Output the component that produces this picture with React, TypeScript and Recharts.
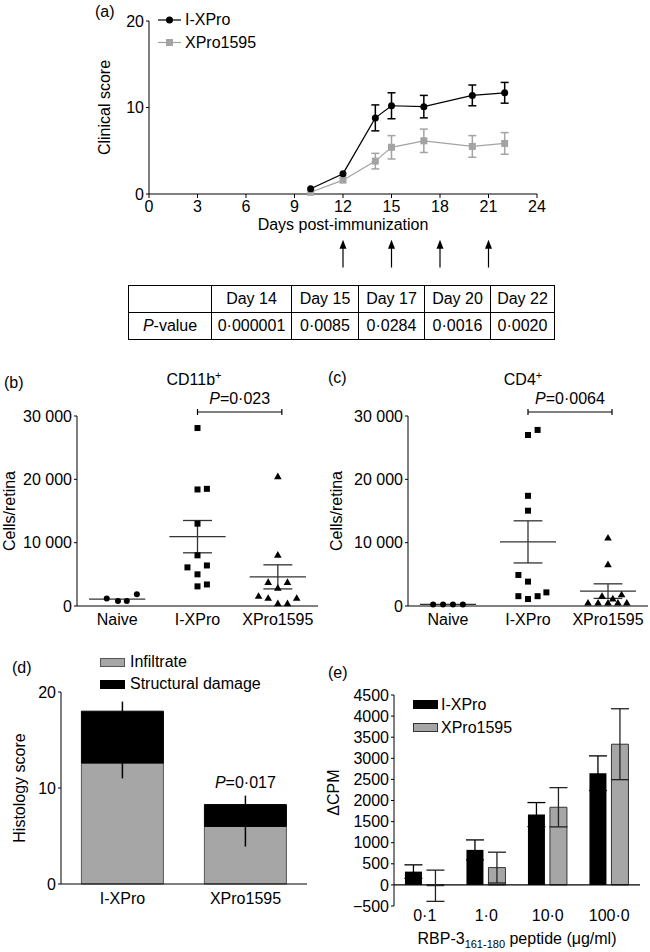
import React from "react";
import {
  LineChart,
  Line,
  XAxis,
  YAxis,
  ErrorBar,
  ReferenceLine,
  ScatterChart,
  Scatter,
  BarChart,
  Bar,
  LabelList,
} from "recharts";

const FONT = '"Liberation Sans", Arial, Helvetica, sans-serif';
const GREY = "#a6a6a6";
const LINE_GREY = "#a3a3a3";

// (a) clinical score over time
const days = [10, 12, 14, 15, 17, 20, 22];
const ixproScore = [0.6, 2.35, 8.8, 10.2, 10.1, 11.4, 11.7];
const ixproScoreSem = [0, 0, 1.5, 1.5, 1.3, 1.2, 1.2];
const xproScore = [0.2, 1.6, 3.8, 5.4, 6.15, 5.5, 5.85];
const xproScoreSem = [0, 0, 0.9, 1.35, 1.35, 1.25, 1.25];
const dayTicks = [0, 3, 6, 9, 12, 15, 18, 21, 24];
const scoreTicks = [0, 10, 20];
const arrowDays = [12, 15, 18, 21];

// p-value table under (a)
const tableDays = ["Day 14", "Day 15", "Day 17", "Day 20", "Day 22"];
const tableP = ["0·000001", "0·0085", "0·0284", "0·0016", "0·0020"];

// (b) / (c) cells per retina
const groups = ["Naive", "I-XPro", "XPro1595"];
const cellTicks = [0, 10000, 20000, 30000];
const cd11bNaive = [1200, 800, 800, 1850];
const cd11bIxpro = [28100, 18400, 18500, 13000, 8000, 6100, 6400, 5000, 3100, 3400];
const cd11bXpro = [20500, 8100, 3800, 3800, 2900, 1600, 1300, 1300, 450, 450];
const cd11bMean = [1100, 10950, 4600];
const cd11bSem = [0, 2550, 1900];
const cd4Naive = [250, 250, 250, 250];
const cd4Ixpro = [27800, 27000, 17400, 15050, 4900, 3850, 1550, 1550, 1100, 2150];
const cd4Xpro = [10800, 6600, 1600, 1200, 1850, 550, 550, 550, 550, 550];
const cd4Mean = [250, 10125, 2350];
const cd4Sem = [0, 3325, 1150];

// horizontal spread of the dots inside each column (layout only)
const cd11bJitter = [
  [-0.13, 0.01, 0.12, 0.245],
  [0, 0, 0.117, 0, 0, -0.125, 0.117, 0, 0, 0.117],
  [0, 0, -0.12, 0.12, 0, -0.24, -0.12, 0.235, 0, 0.12],
];
const cd4Jitter = [
  [-0.186, -0.062, 0.062, 0.186],
  [0.12, 0, 0, 0, -0.12, 0, -0.12, 0.12, 0, 0.23],
  [0, 0, -0.075, 0.06, 0.17, -0.25, -0.124, 0, 0.124, 0.235],
];

// (d) histology
const histGroups = ["I-XPro", "XPro1595"];
const infiltrate = [12.6, 6.0];
const infiltrateSem = [1.6, 2.1];
const damage = [5.4, 2.27];
const damageSem = [1.0, 0.93];
const histP = ["", "0·017"];
const histTicks = [0, 10, 20];

// (e) proliferation
const doses = ["0·1", "1·0", "10·0", "100·0"];
const ixproCpm = [315, 830, 1666, 2647];
const ixproCpmSem = [160, 236, 285, 410];
const xproCpm = [-20, 410, 1840, 3334];
const xproCpmSem = [370, 365, 465, 840];
const cpmTicks = [-500, 0, 500, 1000, 1500, 2000, 2500, 3000, 3500, 4000, 4500];

const tickStyle = { fill: "#000", fontSize: 16, fontFamily: FONT };

const scoreData = days.map((d, i) => ({
  day: d,
  ixpro: ixproScore[i],
  ixproErr: ixproScoreSem[i],
  xpro: xproScore[i],
  xproErr: xproScoreSem[i],
}));

const histData = histGroups.map((g, i) => ({
  name: g,
  infiltrate: infiltrate[i],
  infErr: [infiltrateSem[i], 0],
  damage: damage[i],
  dmgErr: [0, damageSem[i]],
  p: histP[i],
}));

const cpmData = doses.map((d, i) => ({
  dose: d,
  ixpro: ixproCpm[i],
  ixproErr: ixproCpmSem[i],
  xpro: xproCpm[i],
  xproErr: xproCpmSem[i],
}));

const Txt = ({ x, y, children, center = false, size = 16 }: any) => (
  <div
    style={{
      position: "absolute",
      left: x,
      top: y,
      transform: center ? "translate(-50%, -50%)" : "translateY(-50%)",
      fontSize: size,
      lineHeight: 1,
      whiteSpace: "nowrap",
    }}
  >
    {children}
  </div>
);

const vTitle = (text: React.ReactNode, x: number, dy = 0) => (props: any) => {
  const vb = props.viewBox || {};
  const cy = vb.y + vb.height / 2 + dy;
  return (
    <text
      x={x}
      y={cy}
      transform={`rotate(-90 ${x} ${cy})`}
      textAnchor="middle"
      dominantBaseline="central"
      fontSize={16}
      fontFamily={FONT}
      fill="#000"
    >
      {text}
    </text>
  );
};

const arrowShape = (p: any) => (
  <g>
    <line x1={p.x1} y1={p.y1} x2={p.x2} y2={p.y2 + 8} stroke="#000" strokeWidth={1.2} />
    <polygon points={`${p.x2},${p.y2} ${p.x2 - 3.5},${p.y2 + 9} ${p.x2 + 3.5},${p.y2 + 9}`} fill="#000" />
  </g>
);

const bracketShape = (label: string) => (p: any) => (
  <g>
    <line x1={p.x1} y1={p.y1} x2={p.x2} y2={p.y2} stroke="#000" strokeWidth={1.2} />
    <line x1={p.x1} y1={p.y1 - 3} x2={p.x1} y2={p.y1 + 3} stroke="#000" strokeWidth={1.2} />
    <line x1={p.x2} y1={p.y2 - 3} x2={p.x2} y2={p.y2 + 3} stroke="#000" strokeWidth={1.2} />
    <text x={(p.x1 + p.x2) / 2} y={p.y1 - 8} textAnchor="middle" fontSize={16} fontFamily={FONT} fill="#000">
      <tspan fontStyle="italic">P</tspan>
      {"=" + label}
    </text>
  </g>
);

const blackDot = (p: any) => (
  <circle key={`c${p.index}`} cx={p.cx} cy={p.cy} r={3.5} fill="#000" />
);
const greySquareDot = (p: any) => (
  <rect key={`s${p.index}`} x={p.cx - 3.5} y={p.cy - 3.5} width={7} height={7} fill={LINE_GREY} />
);

const circleShape = (p: any) => <circle cx={p.cx} cy={p.cy} r={3} fill="#000" />;
const squareShape = (p: any) => <rect x={p.cx - 3} y={p.cy - 3} width={6} height={6} fill="#000" />;
const triangleShape = (p: any) => (
  <polygon points={`${p.cx},${p.cy - 3.6} ${p.cx - 3.8},${p.cy + 3} ${p.cx + 3.8},${p.cy + 3}`} fill="#000" />
);
const shapes = [circleShape, squareShape, triangleShape];

function ScorePanel() {
  return (
    <div style={{ position: "absolute", left: 0, top: 0 }}>
      <LineChart width={650} height={280} data={scoreData} margin={{ top: 21, right: 113, bottom: 46, left: 100 }}>
        <XAxis
          type="number"
          dataKey="day"
          domain={[0, 24]}
          ticks={dayTicks}
          interval={0}
          height={40}
          stroke="#000"
          tick={tickStyle}
          tickSize={4}
          tickMargin={3}
          label={{ value: "Days post-immunization", position: "insideBottom", offset: 4, fill: "#000", fontSize: 16, fontFamily: FONT }}
        />
        <YAxis
          type="number"
          domain={[0, 20]}
          ticks={scoreTicks}
          width={49}
          stroke="#000"
          tick={tickStyle}
          tickSize={3}
          tickMargin={2}
          label={vTitle("Clinical score", 104)}
        />
        <Line dataKey="xpro" name="XPro1595" stroke={LINE_GREY} strokeWidth={1.2} dot={greySquareDot} isAnimationActive={false}>
          <ErrorBar dataKey="xproErr" direction="y" width={4} stroke={LINE_GREY} strokeWidth={1.5} />
        </Line>
        <Line dataKey="ixpro" name="I-XPro" stroke="#000" strokeWidth={1.2} dot={blackDot} isAnimationActive={false}>
          <ErrorBar dataKey="ixproErr" direction="y" width={4} stroke="#000" strokeWidth={1.5} />
        </Line>
        {arrowDays.map((d) => (
          <ReferenceLine
            key={d}
            segment={[{ x: d, y: -8.5 }, { x: d, y: -5.3 }]}
            ifOverflow="visible"
            shape={arrowShape}
          />
        ))}
      </LineChart>
      <svg style={{ position: "absolute", left: 156, top: 12 }} width={28} height={40}>
        <line x1={2} y1={8} x2={25} y2={8} stroke="#000" strokeWidth={1.2} />
        <circle cx={13.5} cy={8} r={3.5} fill="#000" />
        <line x1={2} y1={30.5} x2={25} y2={30.5} stroke={LINE_GREY} strokeWidth={1.2} />
        <rect x={10} y={27} width={7} height={7} fill={LINE_GREY} />
      </svg>
      <Txt x={185} y={20}>I-XPro</Txt>
      <Txt x={185} y={42.5}>XPro1595</Txt>
    </div>
  );
}

function PTable() {
  const widths = [83, 80, 67, 66, 66, 64];
  const cell: React.CSSProperties = {
    border: "1px solid #000",
    padding: 0,
    height: 26,
    textAlign: "center",
    fontSize: 16,
    lineHeight: 1,
  };
  return (
    <table
      style={{
        position: "absolute",
        left: 128,
        top: 285,
        width: 427,
        borderCollapse: "collapse",
        tableLayout: "fixed",
        fontFamily: FONT,
      }}
    >
      <colgroup>
        {widths.map((w, i) => (
          <col key={i} style={{ width: w }} />
        ))}
      </colgroup>
      <tbody>
        <tr>
          <td style={cell}></td>
          {tableDays.map((d) => (
            <td key={d} style={cell}>{d}</td>
          ))}
        </tr>
        <tr>
          <td style={cell}>
            <i>P</i>-value
          </td>
          {tableP.map((p) => (
            <td key={p} style={cell}>{p}</td>
          ))}
        </tr>
      </tbody>
    </table>
  );
}

function CellPanel({ left, yTitleX, yAxisWidth, right, values, jitter, means, sems, pLabel }: any) {
  const series = values.map((vals: number[], g: number) =>
    vals.map((v, i) => ({ x: g + 1 + jitter[g][i], y: v }))
  );
  const segs: any[] = [];
  means.forEach((m: number, g: number) => {
    const c = g + 1;
    const s = sems[g];
    segs.push([{ x: c - 0.35, y: m }, { x: c + 0.35, y: m }]);
    if (s > 0) {
      segs.push([{ x: c, y: m - s }, { x: c, y: m + s }]);
      segs.push([{ x: c - 0.18, y: m - s }, { x: c + 0.18, y: m - s }]);
      segs.push([{ x: c - 0.18, y: m + s }, { x: c + 0.18, y: m + s }]);
    }
  });
  return (
    <div style={{ position: "absolute", left, top: 360 }}>
      <ScatterChart width={325} height={280} margin={{ top: 56, right, bottom: 4, left: 0 }}>
        <XAxis
          type="number"
          dataKey="x"
          domain={[0.5, 3.5]}
          ticks={[1, 2, 3]}
          interval={0}
          tickFormatter={(v: number) => groups[v - 1]}
          height={30}
          stroke="#000"
          tick={tickStyle}
          tickLine={false}
          tickMargin={2}
        />
        <YAxis
          type="number"
          dataKey="y"
          domain={[0, 30000]}
          ticks={cellTicks}
          interval={0}
          tickFormatter={(v: number) => (v >= 10000 ? `${v / 1000} 000` : `${v}`)}
          width={yAxisWidth}
          stroke="#000"
          tick={tickStyle}
          tickSize={3}
          tickMargin={2}
          label={vTitle("Cells/retina", yTitleX)}
        />
        {segs.map((s, i) => (
          <ReferenceLine key={i} segment={s} stroke="#333" strokeWidth={1.3} ifOverflow="visible" />
        ))}
        {series.map((d: any[], g: number) => (
          <Scatter key={g} data={d} shape={shapes[g]} isAnimationActive={false} />
        ))}
        <ReferenceLine
          segment={[{ x: 2, y: 30630 }, { x: 3.05, y: 30630 }]}
          ifOverflow="visible"
          shape={bracketShape(pLabel)}
        />
      </ScatterChart>
    </div>
  );
}

function HistPanel() {
  return (
    <div style={{ position: "absolute", left: 0, top: 640 }}>
      <BarChart width={325} height={290} data={histData} margin={{ top: 52, right: 18, bottom: 16, left: 0 }} barCategoryGap="16.6%">
        <XAxis dataKey="name" height={30} stroke="#000" tick={tickStyle} tickLine={false} tickMargin={3} />
        <YAxis
          domain={[0, 20]}
          ticks={histTicks}
          width={61}
          stroke="#000"
          tick={tickStyle}
          tickSize={3}
          tickMargin={2}
          label={vTitle("Histology score", 19)}
        />
        <Bar dataKey="infiltrate" stackId="h" fill={GREY} stroke="#555" strokeWidth={1} isAnimationActive={false}>
          <ErrorBar dataKey="infErr" direction="y" width={0} stroke="#000" strokeWidth={1.5} />
        </Bar>
        <Bar dataKey="damage" stackId="h" fill="#000" stroke="#000" isAnimationActive={false}>
          <ErrorBar dataKey="dmgErr" direction="y" width={0} stroke="#000" strokeWidth={1.5} />
          <LabelList
            dataKey="p"
            content={(p: any) =>
              p.value ? (
                <text x={p.x + p.width / 2} y={p.y - 17} textAnchor="middle" fontSize={16} fontFamily={FONT} fill="#000">
                  <tspan fontStyle="italic">P</tspan>
                  {"=" + p.value}
                </text>
              ) : null
            }
          />
        </Bar>
      </BarChart>
      <div style={{ position: "absolute", left: 100, top: 18, width: 25, height: 9, background: GREY, border: "1px solid #555", boxSizing: "border-box" }} />
      <div style={{ position: "absolute", left: 100, top: 40, width: 25, height: 9, background: "#000" }} />
      <Txt x={130} y={22}>Infiltrate</Txt>
      <Txt x={130} y={44}>Structural damage</Txt>
    </div>
  );
}

const cpmXLabel = (props: any) => {
  const vb = props.viewBox || {};
  return (
    <text x={vb.x + vb.width / 2} y={vb.y + vb.height - 2} textAnchor="middle" fontSize={16} fontFamily={FONT} fill="#000">
      RBP-3
      <tspan dy={4} fontSize={11}>161-180</tspan>
      <tspan dy={-4}> peptide (μg/ml)</tspan>
    </text>
  );
};

function CpmPanel() {
  return (
    <div style={{ position: "absolute", left: 325, top: 640 }}>
      <BarChart width={325} height={310} data={cpmData} margin={{ top: 55, right: 10, bottom: 4, left: 0 }} barCategoryGap="17.8%" barGap={5}>
        <XAxis dataKey="dose" height={40} axisLine={false} tickLine={false} tickSize={0} tickMargin={4} tick={tickStyle} label={cpmXLabel} />
        <YAxis
          domain={[-500, 4500]}
          ticks={cpmTicks}
          interval={0}
          tickFormatter={(v: number) => (v < 0 ? `\u2212${-v}` : `${v}`)}
          width={69}
          stroke="#000"
          tick={tickStyle}
          tickSize={3}
          tickMargin={2}
          label={vTitle("\u0394CPM", 8, -8)}
        />
        <ReferenceLine y={0} stroke="#000" strokeWidth={1.2} />
        <Bar dataKey="ixpro" fill="#000" isAnimationActive={false}>
          <ErrorBar dataKey="ixproErr" direction="y" width={9} stroke="#000" strokeWidth={1.3} />
        </Bar>
        <Bar dataKey="xpro" fill={GREY} stroke="#333" strokeWidth={1} isAnimationActive={false}>
          <ErrorBar dataKey="xproErr" direction="y" width={9} stroke="#222" strokeWidth={1.3} />
        </Bar>
      </BarChart>
      <div style={{ position: "absolute", left: 88, top: 60, width: 25, height: 9, background: "#000" }} />
      <div style={{ position: "absolute", left: 88, top: 83, width: 25, height: 9, background: GREY, border: "1px solid #333", boxSizing: "border-box" }} />
      <Txt x={116} y={65}>I-XPro</Txt>
      <Txt x={116} y={88}>XPro1595</Txt>
    </div>
  );
}

export default function App() {
  return (
    <div style={{ position: "absolute", left: 0, top: 0, width: 650, height: 952, background: "#fff", fontFamily: FONT, color: "#000" }}>
      <ScorePanel />
      <Txt x={95} y={12}>(a)</Txt>
      <PTable />
      <CellPanel
        left={0}
        yTitleX={9}
        yAxisWidth={77}
        right={7}
        values={[cd11bNaive, cd11bIxpro, cd11bXpro]}
        jitter={cd11bJitter}
        means={cd11bMean}
        sems={cd11bSem}
        pLabel="0·023"
      />
      <CellPanel
        left={325}
        yTitleX={11.5}
        yAxisWidth={83}
        right={2}
        values={[cd4Naive, cd4Ixpro, cd4Xpro]}
        jitter={cd4Jitter}
        means={cd4Mean}
        sems={cd4Sem}
        pLabel="0·0064"
      />
      <Txt x={4} y={383}>(b)</Txt>
      <Txt x={194} y={379} center>
        CD11b<sup style={{ fontSize: 11 }}>+</sup>
      </Txt>
      <Txt x={328} y={378}>(c)</Txt>
      <Txt x={523} y={379} center>
        CD4<sup style={{ fontSize: 11 }}>+</sup>
      </Txt>
      <HistPanel />
      <Txt x={12} y={668}>(d)</Txt>
      <CpmPanel />
      <Txt x={328} y={673}>(e)</Txt>
    </div>
  );
}
